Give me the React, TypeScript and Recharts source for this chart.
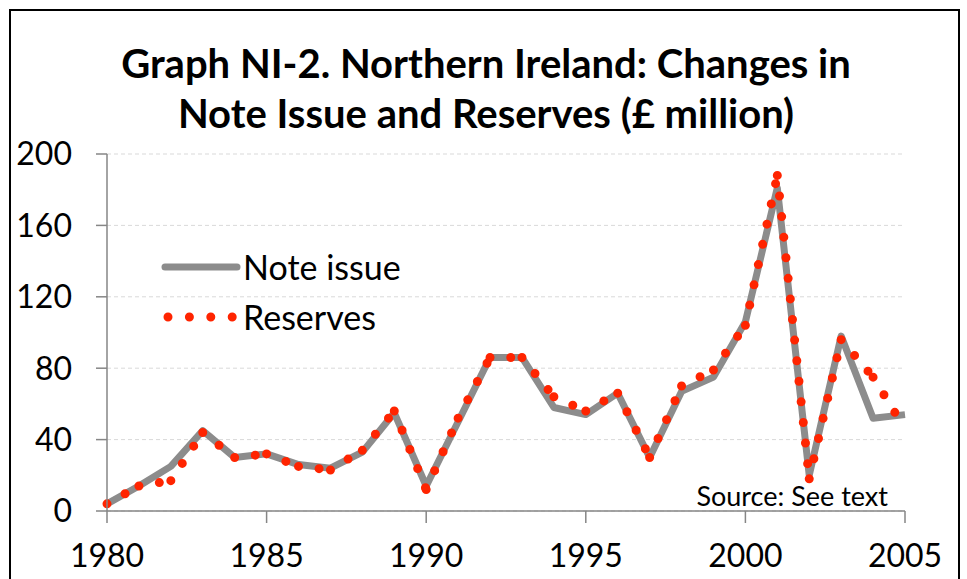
import React from 'react';
import { LineChart, Line, XAxis, YAxis, CartesianGrid } from 'recharts';

const years = [
  1980, 1981, 1982, 1983, 1984, 1985, 1986, 1987, 1988, 1989, 1990, 1991, 1992,
  1993, 1994, 1995, 1996, 1997, 1998, 1999, 2000, 2001, 2002, 2003, 2004, 2005,
];
const noteIssue = [
  4, 14, 25, 45, 30, 32, 26, 24, 33, 55, 14, 50, 86,
  86, 58, 54, 66, 30, 67, 75, 106, 181, 20, 98, 52, 54,
];
const reserves = [
  4, 14, 17, 44, 30, 32, 25, 23, 34, 56, 12, 52, 86,
  86, 64, 56, 66, 30, 70, 79, 104, 188, 18, 96, 75, 46,
];
const xTicks = [1980, 1985, 1990, 1995, 2000, 2005];
const yTicks = [0, 40, 80, 120, 160, 200];

const GREY = '#8c8c8c';
const RED = '#ff2400';
const FONT = 'Lato, "Open Sans", sans-serif';

// Excel restarts the round-dot pattern at every vertex, so the reserves
// series is drawn one segment at a time.
const segKeys = years.slice(0, -1).map((_, i) => `r${i}`);

const data = years.map((year, i) => {
  const row: Record<string, number | null> = { year, note: noteIssue[i], reserves: reserves[i] };
  segKeys.forEach((k, s) => {
    row[k] = s === i || s === i - 1 ? reserves[i] : null;
  });
  return row;
});

function LegendBox() {
  return (
    <div style={{ fontFamily: FONT, fontSize: 34, color: '#000', lineHeight: '50px' }}>
      <div style={{ display: 'flex', alignItems: 'center' }}>
        <svg width={86} height={20}>
          <line x1={8} y1={10} x2={80} y2={10} stroke={GREY} strokeWidth={7} strokeLinecap="round" />
        </svg>
        <span>Note issue</span>
      </div>
      <div style={{ display: 'flex', alignItems: 'center' }}>
        <svg width={86} height={20}>
          <line
            x1={11} y1={10} x2={76} y2={10}
            stroke={RED} strokeWidth={9} strokeLinecap="round" strokeDasharray="0 21.4"
          />
        </svg>
        <span>Reserves</span>
      </div>
    </div>
  );
}

export default function App() {
  return (
    <div style={{ position: 'absolute', left: 0, top: 0, width: 967, height: 579, background: '#fff', overflow: 'hidden' }}>
      <div
        style={{
          position: 'absolute', left: 9, top: 9, width: 951, height: 600,
          border: '2px solid #000', boxSizing: 'border-box',
        }}
      />
      <div
        style={{
          position: 'absolute', left: 0, top: 38, width: 972, textAlign: 'center',
          fontFamily: FONT, fontWeight: 700, fontSize: 40, lineHeight: '50px', color: '#000',
        }}
      >
        Graph NI-2. Northern Ireland: Changes in
        <br />
        Note Issue and Reserves (£ million)
      </div>
      <div style={{ position: 'absolute', left: 0, top: 0 }}>
        <LineChart width={967} height={579} data={data} margin={{ top: 154, right: 62, left: 0, bottom: 0 }}>
          <CartesianGrid vertical={false} stroke="#d9d9d9" strokeDasharray="4 3" />
          <XAxis
            dataKey="year"
            type="number"
            domain={[1980, 2005]}
            ticks={xTicks}
            height={68}
            tickSize={12}
            tickMargin={21}
            axisLine={{ stroke: '#868686', strokeWidth: 1.5 }}
            tickLine={{ stroke: '#868686', strokeWidth: 1.5 }}
            tick={{ fill: '#000', fontSize: 32, fontFamily: FONT }}
            interval={0}
          />
          <YAxis
            domain={[0, 200]}
            ticks={yTicks}
            width={107}
            tickSize={11}
            tickMargin={24}
            axisLine={{ stroke: '#868686', strokeWidth: 1.5 }}
            tickLine={{ stroke: '#868686', strokeWidth: 1.5 }}
            tick={{ fill: '#000', fontSize: 32, fontFamily: FONT }}
            interval={0}
          />
          <Line
            dataKey="note"
            type="linear"
            stroke={GREY}
            strokeWidth={7}
            strokeLinejoin="round"
            dot={false}
            isAnimationActive={false}
          />
          {segKeys.map(k => (
            <Line
              key={k}
              dataKey={k}
              type="linear"
              stroke={RED}
              strokeWidth={9}
              strokeLinecap="round"
              strokeDasharray="0 20.7"
              dot={false}
              legendType="none"
              isAnimationActive={false}
            />
          ))}
        </LineChart>
      </div>
      <div style={{ position: 'absolute', left: 157, top: 242 }}>
        <LegendBox />
      </div>
      <div
        style={{
          position: 'absolute', right: 967 - 888, top: 479, fontFamily: FONT, fontSize: 27,
          color: '#000', whiteSpace: 'nowrap',
        }}
      >
        Source: See text
      </div>
    </div>
  );
}
